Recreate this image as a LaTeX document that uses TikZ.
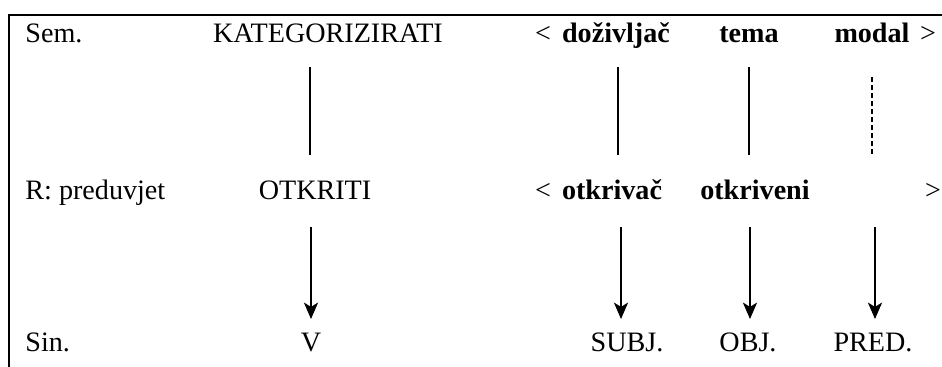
\documentclass[tikz,border=0pt]{standalone}
\usepackage{fontspec}
\setmainfont{Liberation Serif}
\usetikzlibrary{arrows.meta}
\newcommand{\diagfont}{\fontsize{12.6}{15}\selectfont}
\tikzset{
    row-label/.style = {anchor=base west, inner sep=0pt},
    cell/.style = {anchor=base, inner sep=0pt},
    role/.style = {cell, font=\diagfont\bfseries},
    link/.style = {line width=0.5pt},
    link-dashed/.style = {link, dash pattern=on 2.1pt off 1.5pt},
    link-arrow/.style = {link, -{Stealth[length=7.4pt, width=6.4pt, inset=2pt]}},
}

\begin{document}
\begin{tikzpicture}[x=0.448pt, y=-0.448pt, font=\diagfont]
\useasboundingbox (0,0) rectangle (942,367);
% frame: only top and left
\draw[line width=0.9pt] (942,15) -- (9,15) -- (9,367);

% semantic level
\node[row-label] (sem) at (25,43) {Sem.};
\node[cell] (kategorizirati) at (328,43) {KATEGORIZIRATI};
\node[cell] (semOpen) at (543,43) {<};
\node[role] (dozivljac) at (616,43) {doživljač};
\node[role] (tema) at (749,43) {tema};
\node[role] (modal) at (872,43) {modal};
\node[cell] (semClose) at (928,43) {>};

% presupposition level
\node[row-label] (pre) at (25,200) {R: preduvjet};
\node[cell] (otkriti) at (315,200) {OTKRITI};
\node[cell] (preOpen) at (543,200) {<};
\node[role] (otkrivac) at (612,200) {otkrivač};
\node[role] (otkriveni) at (755,200) {otkriveni};
\node[cell] (preClose) at (933,200) {>};

% syntactic level
\node[row-label] (sin) at (25,352) {Sin.};
\node[cell] (v) at (311,352) {V};
\node[cell] (subj) at (627,352) {SUBJ.};
\node[cell] (obj) at (748,352) {OBJ.};
\node[cell] (pred) at (873,352) {PRED.};

% line ends
\coordinate (katTop) at (310,67);   \coordinate (katBot) at (310,155);
\coordinate (dozTop) at (618,67);   \coordinate (dozBot) at (618,155);
\coordinate (temTop) at (749,67);   \coordinate (temBot) at (749,155);
\coordinate (modTop) at (872,77);   \coordinate (modBot) at (872,156);
\coordinate (otkTop) at (311,227);  \coordinate (otkBot) at (311,319);
\coordinate (ouTop) at (621,227);   \coordinate (ouBot) at (621,319);
\coordinate (oiTop) at (750,227);   \coordinate (oiBot) at (750,319);
\coordinate (prTop) at (875,227);   \coordinate (prBot) at (875,319);

\draw[link] (katTop) -- (katBot);
\draw[link] (dozTop) -- (dozBot);
\draw[link] (temTop) -- (temBot);
\draw[link-dashed] (modTop) -- (modBot);

\draw[link-arrow] (otkTop) -- (otkBot);
\draw[link-arrow] (ouTop) -- (ouBot);
\draw[link-arrow] (oiTop) -- (oiBot);
\draw[link-arrow] (prTop) -- (prBot);
\end{tikzpicture}
\end{document}
